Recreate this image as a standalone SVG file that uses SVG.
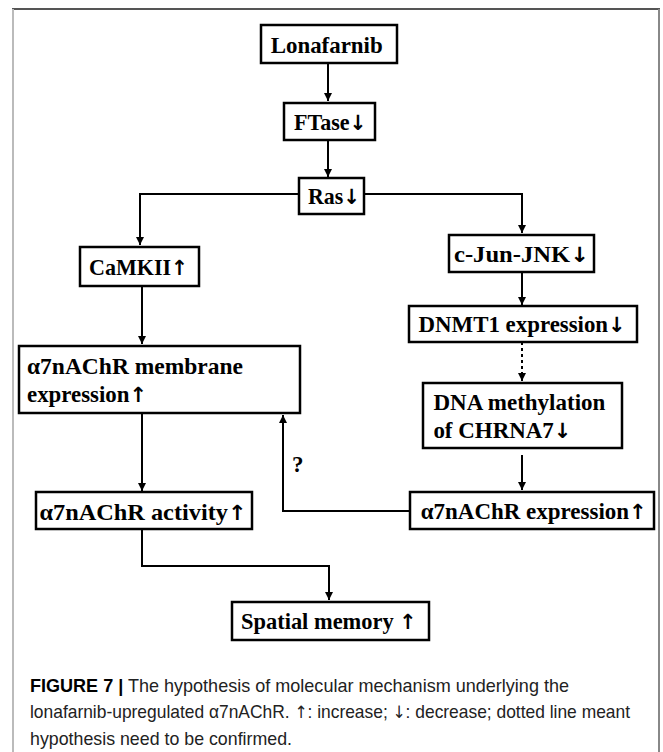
<svg xmlns="http://www.w3.org/2000/svg" width="663" height="752" viewBox="0 0 663 752">
<style>
.box{fill:#fff;stroke:#000;stroke-width:2.5}
.t{font-family:"Liberation Serif","Times New Roman",serif;font-weight:bold;font-size:23px;fill:#000}
.ar{font-family:"DejaVu Sans",sans-serif;font-weight:bold;font-size:21px;fill:#000}
.ln{fill:none;stroke:#000;stroke-width:2}
.cap{font-family:"Liberation Sans",Arial,sans-serif;font-size:19px;fill:#222}
.car{font-family:"DejaVu Sans",sans-serif;font-size:17px}
</style>
<defs>
<marker id="ah" markerUnits="userSpaceOnUse" markerWidth="8" markerHeight="10" viewBox="0 0 8 10" refX="8" refY="5" orient="auto">
<path d="M0,1 L8,5 L0,9 z" fill="#000"/>
</marker>
</defs>
<rect width="663" height="752" fill="#fff"/>
<g id="frame">
<line x1="12" y1="9" x2="660" y2="9" stroke="#555" stroke-width="2"/>
<line x1="13" y1="9" x2="13" y2="752" stroke="#bbb" stroke-width="2"/>
<line x1="659" y1="9" x2="659" y2="752" stroke="#888" stroke-width="2"/>
</g>
<g id="connectors">
<line class="ln" x1="328" y1="63" x2="328" y2="101" marker-end="url(#ah)"/>
<line class="ln" x1="328" y1="140" x2="328" y2="177" marker-end="url(#ah)"/>
<polyline class="ln" points="299,194 140,194 140,245" marker-end="url(#ah)"/>
<polyline class="ln" points="364,194 522,194 522,233" marker-end="url(#ah)"/>
<line class="ln" x1="142" y1="286" x2="142" y2="344" marker-end="url(#ah)"/>
<line class="ln" x1="522" y1="272" x2="522" y2="305" marker-end="url(#ah)"/>
<line class="ln" x1="522" y1="342" x2="522" y2="381" stroke-dasharray="3,3" marker-end="url(#ah)"/>
<line class="ln" x1="522" y1="455" x2="522" y2="490" marker-end="url(#ah)"/>
<line class="ln" x1="142" y1="413" x2="142" y2="491" marker-end="url(#ah)"/>
<polyline class="ln" points="410,511 283,511 283,415" marker-end="url(#ah)"/>
<polyline class="ln" points="142,529 142,566 329,566 329,600" marker-end="url(#ah)"/>
<text x="292" y="472" class="t">?</text>
</g>
<g id="lonafarnib"><rect class="box" x="261" y="25" width="136" height="38"/><text class="t" x="270.7" y="53" textLength="112" lengthAdjust="spacingAndGlyphs">Lonafarnib</text></g>
<g id="ftase"><rect class="box" x="284" y="103" width="91" height="37"/><text class="t" x="294" y="129.5" textLength="72.5" lengthAdjust="spacingAndGlyphs">FTase<tspan class="ar">↓</tspan></text></g>
<g id="ras"><rect class="box" x="299" y="178" width="65" height="36"/><text class="t" x="308" y="204" textLength="52" lengthAdjust="spacingAndGlyphs">Ras<tspan class="ar">↓</tspan></text></g>
<g id="camkii"><rect class="box" x="80" y="247" width="119" height="39"/><text class="t" x="89" y="275" textLength="99" lengthAdjust="spacingAndGlyphs">CaMKII<tspan class="ar">↑</tspan></text></g>
<g id="cjun"><rect class="box" x="449" y="235" width="145" height="37"/><text class="t" x="454" y="262" textLength="135" lengthAdjust="spacingAndGlyphs">c-Jun-JNK<tspan class="ar">↓</tspan></text></g>
<g id="dnmt1"><rect class="box" x="409" y="306" width="228" height="36"/><text class="t" x="418.6" y="332" textLength="207" lengthAdjust="spacingAndGlyphs">DNMT1 expression<tspan class="ar">↓</tspan></text></g>
<g id="dnamethyl"><rect class="box" x="423" y="383" width="199" height="65"/><text class="t" x="433.4" y="410" textLength="172" lengthAdjust="spacingAndGlyphs">DNA methylation</text><text class="t" x="433.4" y="438" textLength="138" lengthAdjust="spacingAndGlyphs">of CHRNA7<tspan class="ar">↓</tspan></text></g>
<g id="membrane"><rect class="box" x="19" y="346" width="281" height="67"/><text class="t" x="27" y="374" textLength="216" lengthAdjust="spacingAndGlyphs">α7nAChR membrane</text><text class="t" x="27" y="402" textLength="120" lengthAdjust="spacingAndGlyphs">expression<tspan class="ar">↑</tspan></text></g>
<g id="activity"><rect class="box" x="36" y="492" width="216" height="37"/><text class="t" x="39.5" y="520" textLength="207" lengthAdjust="spacingAndGlyphs">α7nAChR activity<tspan class="ar">↑</tspan></text></g>
<g id="expression"><rect class="box" x="410" y="492" width="244" height="37"/><text class="t" x="420.7" y="518.5" textLength="226" lengthAdjust="spacingAndGlyphs">α7nAChR expression<tspan class="ar">↑</tspan></text></g>
<g id="spatial"><rect class="box" x="232" y="602" width="197" height="38"/><text class="t" x="241" y="629" textLength="175.5" lengthAdjust="spacingAndGlyphs">Spatial memory <tspan class="ar">↑</tspan></text></g>
<g id="caption">
<text class="cap" x="30" y="692" textLength="539" lengthAdjust="spacingAndGlyphs"><tspan font-weight="bold" fill="#000">FIGURE 7 |</tspan> The hypothesis of molecular mechanism underlying the</text>
<text class="cap" x="30" y="718" textLength="600" lengthAdjust="spacingAndGlyphs">lonafarnib-upregulated α7nAChR. <tspan class="car">↑</tspan>: increase; <tspan class="car">↓</tspan>: decrease; dotted line meant</text>
<text class="cap" x="30" y="745" textLength="262" lengthAdjust="spacingAndGlyphs">hypothesis need to be confirmed.</text>
</g>
</svg>
